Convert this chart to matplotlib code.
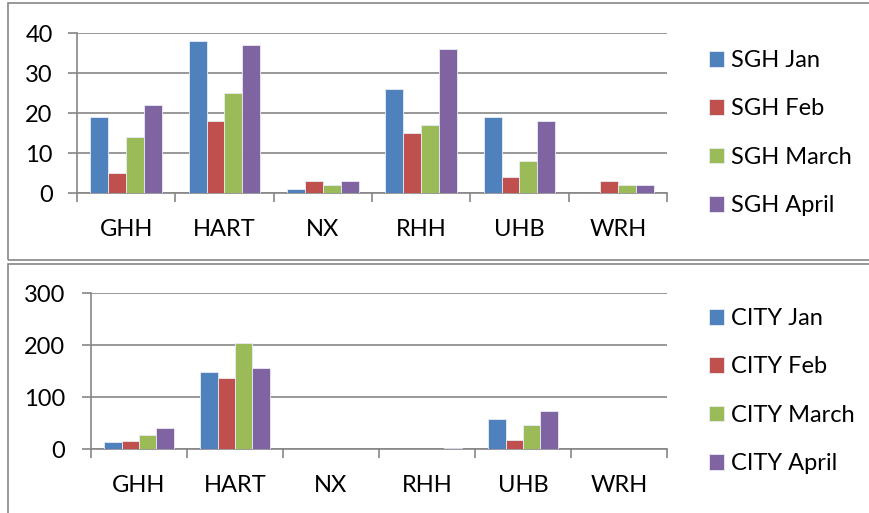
import matplotlib
matplotlib.use("Agg")
import matplotlib.pyplot as plt
from matplotlib.patches import Rectangle
import numpy as np

plt.rcParams['font.family'] = ['Lato', 'DejaVu Sans']

hospitals = ['GHH', 'HART', 'NX', 'RHH', 'UHB', 'WRH']
months = ['Jan', 'Feb', 'March', 'April']
colors = ['#4F81BD', '#C0504D', '#9BBB59', '#8064A2']

sgh_jan = [19, 38, 1, 26, 19, 0]
sgh_feb = [5, 18, 3, 15, 4, 3]
sgh_march = [14, 25, 2, 17, 8, 2]
sgh_april = [22, 37, 3, 36, 18, 2]

city_jan = [14, 149, 0, 0, 58, 0]
city_feb = [15, 136, 0, 0, 17, 0]
city_march = [27, 204, 0, 0, 47, 0]
city_april = [40, 156, 0, 2, 73, 0]

W, H = 870, 513
fig = plt.figure(figsize=(W / 100, H / 100), dpi=100)
fig.patch.set_facecolor('white')

grey = '#868686'

# chart borders (like the Excel chart frames)
fig.patches.append(Rectangle((8 / W, (H - 260) / H), 1.0, 257 / H, transform=fig.transFigure,
                             fill=False, edgecolor=grey, linewidth=1.2))
fig.patches.append(Rectangle((8 / W, -0.1), 1.0, (H - 264) / H + 0.1, transform=fig.transFigure,
                             fill=False, edgecolor=grey, linewidth=1.2))


def draw_chart(rect, series, prefix, ymax, ystep, legend_top, pad):
    left, top, right, bottom = rect
    ax = fig.add_axes([left / W, (H - bottom) / H, (right - left) / W, (bottom - top) / H])
    x = np.arange(len(hospitals))
    w = 0.727 / 4
    for k, vals in enumerate(series):
        ax.bar(x + (k - 1.5) * w, vals, width=w, color=colors[k], edgecolor='#e8ecf4',
               linewidth=0.6, label=f'{prefix} {months[k]}', zorder=3)
    ax.set_xlim(-0.5, len(hospitals) - 0.5)
    ax.set_ylim(0, ymax)
    ax.set_yticks(np.arange(0, ymax + 1, ystep))
    ax.set_xticks(x)
    ax.set_xticklabels(hospitals)
    ax.set_xticks(np.arange(-0.5, len(hospitals), 1), minor=True)
    ax.tick_params(axis='x', which='major', length=0, pad=19, labelsize=17)
    ax.tick_params(axis='x', which='minor', length=6.5, width=1.2, color=grey, direction='out')
    ax.tick_params(axis='y', length=6.5, width=1.2, color=grey, pad=pad, labelsize=17)
    ax.grid(axis='y', color=grey, linewidth=1.2, zorder=0)
    for s in ['top', 'right']:
        ax.spines[s].set_visible(False)
    for s in ['left', 'bottom']:
        ax.spines[s].set_color(grey)
        ax.spines[s].set_linewidth(1.2)
    ax.set_axisbelow(True)
    fig.legend(*ax.get_legend_handles_labels(), loc='upper left',
               bbox_to_anchor=(709 / W, (H - legend_top) / H), frameon=False,
               fontsize=17, handlelength=0.65, handleheight=0.65, handletextpad=0.3,
               labelspacing=1.16, borderaxespad=0, borderpad=0)
    return ax


draw_chart((77, 33, 667, 193), [sgh_jan, sgh_feb, sgh_march, sgh_april], 'SGH', 40, 10, 50, 11)
draw_chart((91, 293, 667, 449), [city_jan, city_feb, city_march, city_april], 'CITY', 300, 100, 308, 12)

fig.savefig('out.png', dpi=100, facecolor='white')
